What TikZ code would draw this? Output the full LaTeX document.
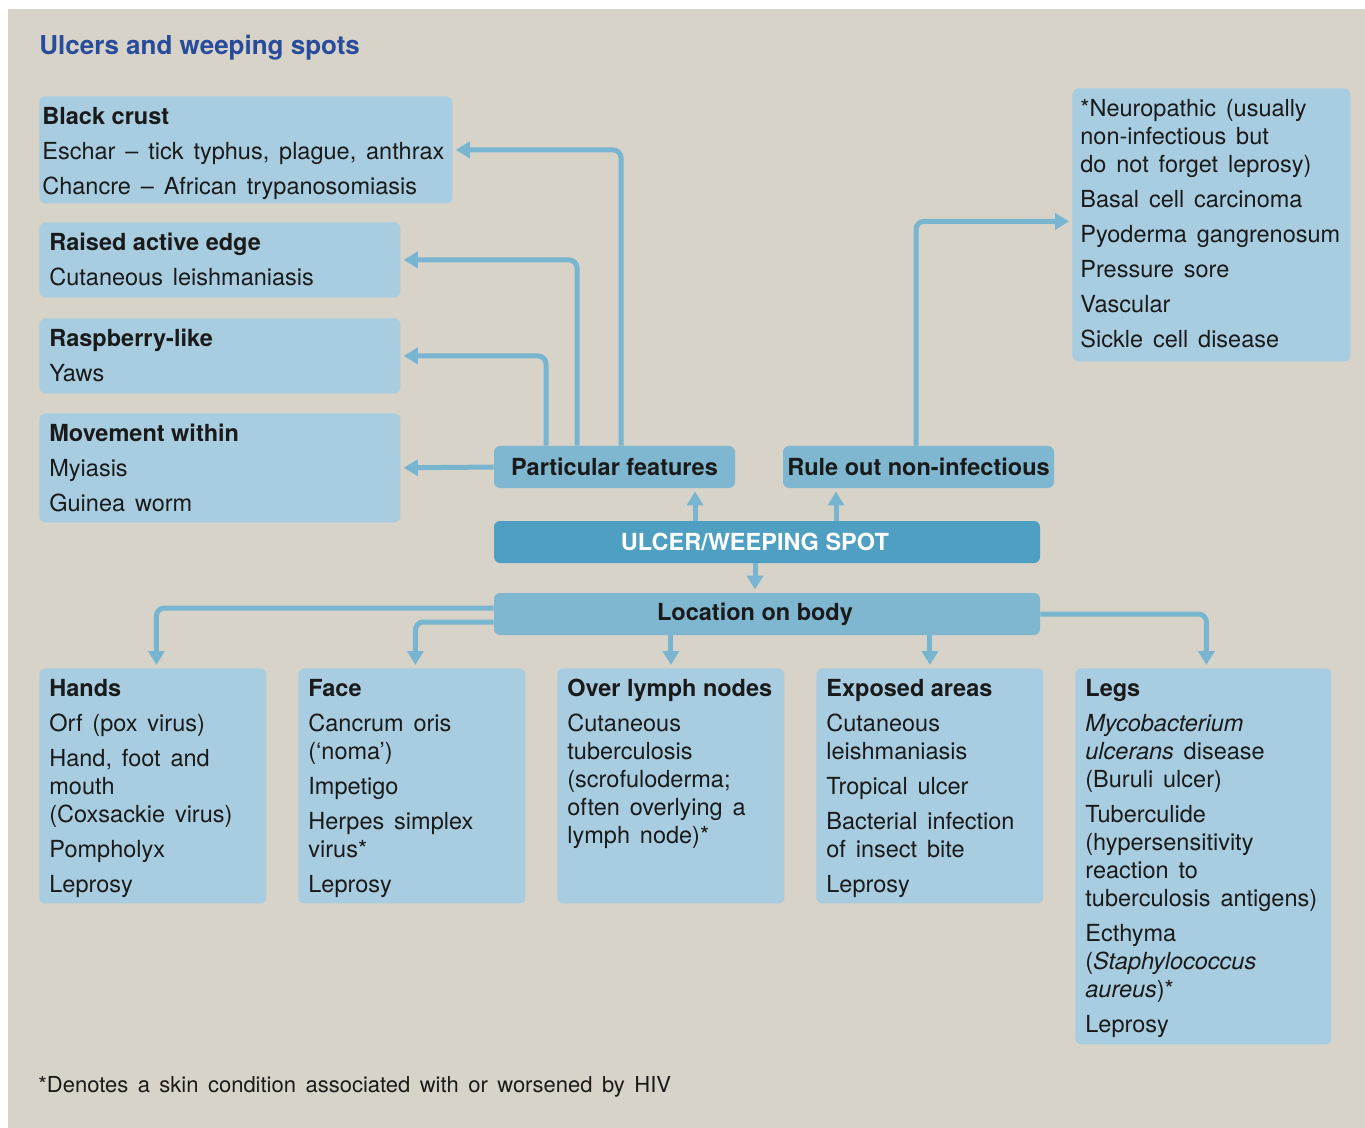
\documentclass[tikz,border=0pt]{standalone}
\usepackage{fontspec}
\setmainfont{TeX Gyre Heros}
\usepackage{tikz}
\usetikzlibrary{arrows.meta}
\definecolor{bg}{HTML}{D8D3C8}
\definecolor{lblue}{HTML}{A8CDE0}
\definecolor{mblue}{HTML}{7FB6D0}
\definecolor{dblue}{HTML}{4F9FC2}
\definecolor{ablue}{HTML}{78B5D0}
\definecolor{tblue}{HTML}{284B9B}
\definecolor{ink}{HTML}{1A1A1A}
\newcommand\bodyfont{\fontsize{11.75}{14}\selectfont\spaceskip=.42em plus .1em minus .05em\relax}
\newcommand\notefont{\fontsize{11}{13}\selectfont\spaceskip=.43em\relax}
\newcommand\hd[1]{{\bfseries\spaceskip=0pt\relax #1}}
\tikzset{lb/.style={anchor=north west,fill=lblue,rounded corners=3pt,text=ink,font=\bodyfont,align=flush left,inner xsep=5pt,inner ysep=5pt,text height=9pt}}
\tikzset{mb/.style={fill=mblue,rounded corners=3pt,text=ink,font=\fontsize{11.75}{14}\selectfont\bfseries,inner sep=0pt,minimum height=21pt}}
\tikzset{db/.style={mb,fill=dblue,text=white}}
\tikzset{arr/.style={draw=ablue,line width=2.5pt,rounded corners=4pt,-{Triangle[width=8pt,length=7pt]},shorten >=1.5pt}}

\begin{document}
\begin{tikzpicture}[x=0.5pt,y=-0.5pt]
\useasboundingbox (0,0) rectangle (1365,1128);
\fill[white] (0,0) rectangle (1365,1128);
\fill[bg] (8,9) rectangle (1365,1128);
\node[anchor=base west,inner sep=0pt,text=tblue,font=\fontsize{13}{15}\selectfont\bfseries](title) at (39,55) {Ulcers and weeping spots};

% particular features
\node[lb,inner xsep=1.5pt,text width=203.5pt,text depth=34.5pt](crust) at (39,96) {\hd{Black crust}\\[3.5pt]Eschar -- tick typhus, plague, anthrax\\[3.5pt]Chancre -- African trypanosomiasis};
\node[lb,text width=170.5pt,text depth=18.5pt](raised) at (39,222) {\hd{Raised active edge}\\[3.5pt]Cutaneous leishmaniasis};
\node[lb,text width=170.5pt,text depth=18.5pt](rasp) at (39,318) {\hd{Raspberry-like}\\[3.5pt]Yaws};
\node[lb,text width=170.5pt,text depth=35.5pt](move) at (39,413) {\hd{Movement within}\\[3.5pt]Myiasis\\[3.5pt]Guinea worm};

% non-infectious
\node[lb,inner xsep=4pt,text width=131pt,text depth=117.5pt](neuro) at (1072,88) {*Neuropathic (usually\\non-infectious but\\do not forget leprosy)\\[3.5pt]Basal cell carcinoma\\[3.5pt]Pyoderma gangrenosum\\[3.5pt]Pressure sore\\[3.5pt]Vascular\\[3.5pt]Sickle cell disease};

\node[mb,minimum width=120.5pt](partic) at (614.5,467) {Particular features};
\node[mb,minimum width=135.5pt](rule) at (918.5,467) {Rule out non-infectious};
\node[db,minimum width=273pt](ulcer) at (767,542) {\kern-12pt ULCER/WEEPING SPOT};
\node[mb,minimum width=273pt](loc) at (767,614) {\kern-12pt Location on body};

% location on body
\node[lb,text width=103.5pt,text depth=98.5pt](hands) at (39,668) {\hd{Hands}\\[3.5pt]Orf (pox virus)\\[3.5pt]Hand, foot and\\mouth\\(Coxsackie virus)\\[3.5pt]Pompholyx\\[3.5pt]Leprosy};
\node[lb,text width=103.5pt,text depth=98.5pt](face) at (298,668) {\hd{Face}\\[3.5pt]Cancrum oris\\(`noma')\\[3.5pt]Impetigo\\[3.5pt]Herpes simplex\\virus*\\[3.5pt]Leprosy};
\node[lb,text width=103.5pt,text depth=98.5pt](lymph) at (557,668) {\hd{Over lymph nodes}\\[3.5pt]Cutaneous\\tuberculosis\\(scrofuloderma;\\often overlying a\\lymph node)*};
\node[lb,text width=103.5pt,text depth=98.5pt](exposed) at (816,668) {\hd{Exposed areas}\\[3.5pt]Cutaneous\\leishmaniasis\\[3.5pt]Tropical ulcer\\[3.5pt]Bacterial infection\\of insect bite\\[3.5pt]Leprosy};
\node[lb,text width=118pt,text depth=169pt](legs) at (1075,668) {\hd{Legs}\\[3.5pt]\textit{Mycobacterium}\\\textit{ulcerans} disease\\(Buruli ulcer)\\[3.5pt]Tuberculide\\(hypersensitivity\\reaction to\\tuberculosis antigens)\\[3.5pt]Ecthyma\\(\textit{Staphylococcus}\\\textit{aureus})*\\[3.5pt]Leprosy};

\node[anchor=base west,inner sep=0pt,text=ink,font=\notefont](note) at (38,1092) {*Denotes a skin condition associated with or worsened by HIV};

\draw[arr] ([xshift=3.25pt]partic.north) |- (crust.east);
\draw[arr] ([xshift=-18.75pt]partic.north) |- (raised.east);
\draw[arr] ([xshift=-34.25pt]partic.north) |- (rasp.east);
\draw[arr] (partic.west) -- (move.east);
\draw[arr] ([xshift=-1.25pt]rule.north) |- ([yshift=1.75pt]neuro.west);

\draw[arr] ([xshift=-36pt]ulcer.north) -- ([xshift=40.25pt]partic.south);
\draw[arr] ([xshift=34.5pt]ulcer.north) -- ([xshift=-41.25pt]rule.south);
\draw[arr] ([xshift=-6pt]ulcer.south) -- ([xshift=-6pt]loc.north);

\draw[arr] ([yshift=3pt]loc.west) -| ([xshift=1.75pt]hands.north);
\draw[arr] ([yshift=-4pt]loc.west) -| ([xshift=1.75pt]face.north);
\draw[arr] (lymph.north |- loc.south) -- (lymph.north);
\draw[arr] (exposed.north |- loc.south) -- (exposed.north);
\draw[arr] (loc.east) -| ([xshift=1.5pt]legs.north);
\end{tikzpicture}
\end{document}
